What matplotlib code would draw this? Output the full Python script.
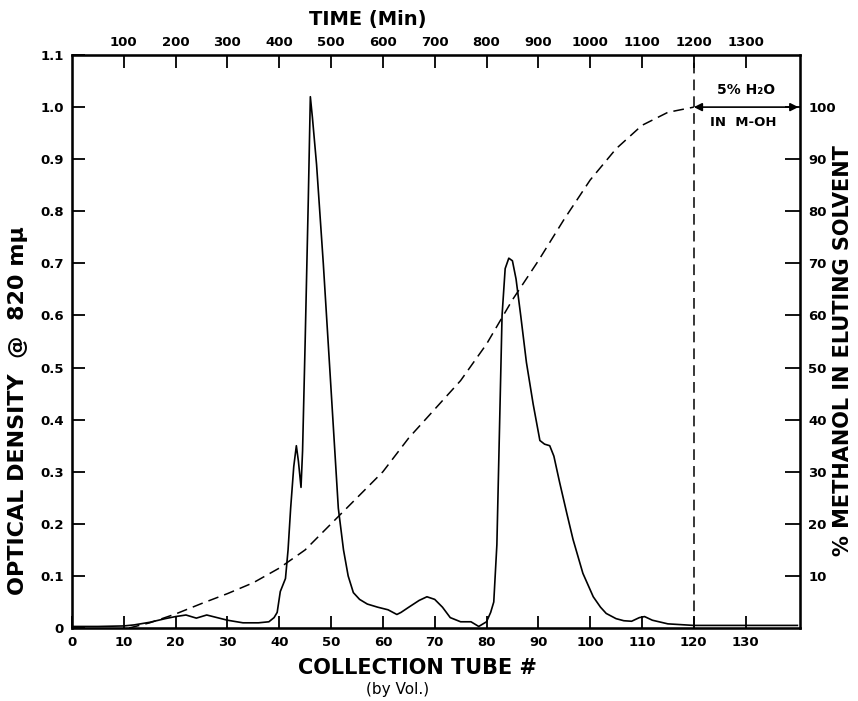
import matplotlib
matplotlib.use('Agg')
import matplotlib.pyplot as plt

# ---- data -----------------------------------------------------------
# optical density trace (solid line)
tube = [0, 5, 10, 12, 15, 18, 20, 22, 24, 26, 28, 30, 33, 36, 38, 39,
        39.6, 40.2, 40.8, 41.2, 41.7, 42.2, 42.8, 43.3, 43.7, 44.2, 44.5,
        45.0, 45.6, 46.0, 46.4, 47.2, 48.5, 49.8, 50.6, 51.4, 52.4, 53.3,
        54.3, 55.5, 57, 59, 61, 62.7, 63.5, 65, 67, 68.5, 70, 71.5, 73, 75,
        77, 78.5, 80, 80.8, 81.4, 82, 82.5, 83, 83.6, 84.3, 85, 85.7, 86.6,
        87.7, 89, 90.3, 91.2, 92.2, 93, 94.1, 95.5, 96.7, 98.6, 100.6, 102,
        103.1, 105, 106.5, 108, 109.5, 110.5, 112, 115, 120, 130, 140]
od = [0.003, 0.003, 0.004, 0.006, 0.011, 0.018, 0.022, 0.025, 0.019, 0.025,
      0.02, 0.015, 0.01, 0.01, 0.012, 0.02,
      0.03, 0.07, 0.085, 0.095, 0.15, 0.23, 0.31, 0.35, 0.32, 0.27, 0.34,
      0.55, 0.82, 1.02, 0.98, 0.89, 0.70, 0.49, 0.36, 0.23, 0.15, 0.10,
      0.068, 0.055, 0.046, 0.04, 0.035, 0.026, 0.03, 0.04, 0.053, 0.06,
      0.055, 0.04, 0.02, 0.012,
      0.012, 0.003, 0.012, 0.03, 0.05, 0.16, 0.38, 0.60, 0.69, 0.71, 0.705,
      0.67, 0.60, 0.51, 0.43, 0.36, 0.353, 0.35, 0.33, 0.28, 0.22, 0.17,
      0.105, 0.06, 0.04, 0.028, 0.018, 0.014, 0.013, 0.02, 0.022, 0.015,
      0.008, 0.005, 0.005, 0.005]

# % methanol gradient (dashed line)
meoh_tube = [11, 15, 20, 25, 30, 35, 40, 45, 50, 55, 60, 65, 70, 75, 80,
             85, 90, 95, 100, 105, 110, 115, 120]
meoh_pct = [0, 1.0, 2.7, 4.7, 6.6, 8.7, 11.5, 15.0, 20.0, 25.0, 30.0, 36.5,
            42.0, 47.5, 54.5, 63.0, 70.5, 78.5, 86.0, 92.0, 96.5, 99.0, 100]

tube_ticks = [0, 10, 20, 30, 40, 50, 60, 70, 80, 90, 100, 110, 120, 130]
time_ticks = [100, 200, 300, 400, 500, 600, 700, 800, 900, 1000, 1100, 1200, 1300]
od_ticks = [0, 0.1, 0.2, 0.3, 0.4, 0.5, 0.6, 0.7, 0.8, 0.9, 1.0, 1.1]
od_labels = ['0', '0.1', '0.2', '0.3', '0.4', '0.5', '0.6', '0.7', '0.8', '0.9', '1.0', '1.1']
pct_ticks = [10, 20, 30, 40, 50, 60, 70, 80, 90, 100]
SWITCH_TUBE = 120   # solvent switched to 5% H2O in MeOH

# ---- styling ----------------------------------------------------------
plt.rcParams['font.family'] = ['DejaVu Sans']
plt.rcParams['font.weight'] = 'bold'
TICK_SIZE = 9.5

fig = plt.figure(figsize=(8.58, 7.01), dpi=100)
ax = fig.add_axes([0.0839, 0.1041, 0.8485, 0.8174])

XMAX = 140.5
ax.plot(tube, od, color='black', lw=1.2)
ax.set_xlim(0, XMAX)
ax.set_ylim(0, 1.1)
ax.set_xticks(tube_ticks)
ax.set_yticks(od_ticks)
ax.set_yticklabels(od_labels)
ax.tick_params(axis='both', direction='in', length=9, width=1.3,
               labelsize=TICK_SIZE, pad=6)
for sp in ax.spines.values():
    sp.set_linewidth(1.8)

# vertical dashed line at solvent change
ax.axvline(SWITCH_TUBE, color='black', lw=1.1, dashes=(7, 4))

# right axis: % methanol
ax_r = ax.twinx()
ax_r.plot(meoh_tube, meoh_pct, color='black', lw=1.1, dashes=(7, 4))
ax_r.set_ylim(0, 110)
ax_r.set_yticks(pct_ticks)
ax_r.tick_params(axis='y', direction='in', length=11, width=1.3,
                 labelsize=TICK_SIZE, pad=6)

# top axis: time in minutes
ax_t = ax.twiny()
ax_t.set_xlim(0, XMAX * 10)
ax_t.set_xticks(time_ticks)
ax_t.tick_params(axis='x', direction='in', length=9, width=1.3,
                 labelsize=TICK_SIZE, pad=4)

# arrow + annotation for solvent change
ax_r.annotate('', xy=(XMAX - 0.3, 100), xytext=(SWITCH_TUBE, 100),
              arrowprops=dict(arrowstyle='<|-|>', color='black', lw=1.2,
                              mutation_scale=12, shrinkA=0, shrinkB=0))
ax_r.text(130, 103.2, '5% H\u2082O', ha='center', va='center', fontsize=10)
ax_r.text(129.5, 97.0, 'IN  M-OH', ha='center', va='center', fontsize=9.5)

# axis titles (placed on the figure to match the original lettering)
fig.text(0.429, 0.972, 'TIME (Min)', ha='center', va='center',
         fontsize=14, fontweight='bold')
fig.text(0.021, 0.415, 'OPTICAL DENSITY  @  820 m\u03bc', rotation=90,
         ha='center', va='center', fontsize=16, fontweight='bold')
fig.text(0.982, 0.50, '% METHANOL IN ELUTING SOLVENT', rotation=90,
         ha='center', va='center', fontsize=15, fontweight='bold')
fig.text(0.486, 0.047, 'COLLECTION TUBE #', ha='center', va='center',
         fontsize=15, fontweight='bold')
fig.text(0.463, 0.017, '(by Vol.)', ha='center', va='center',
         fontsize=11, fontweight='normal')

fig.savefig('out.png', dpi=100)
